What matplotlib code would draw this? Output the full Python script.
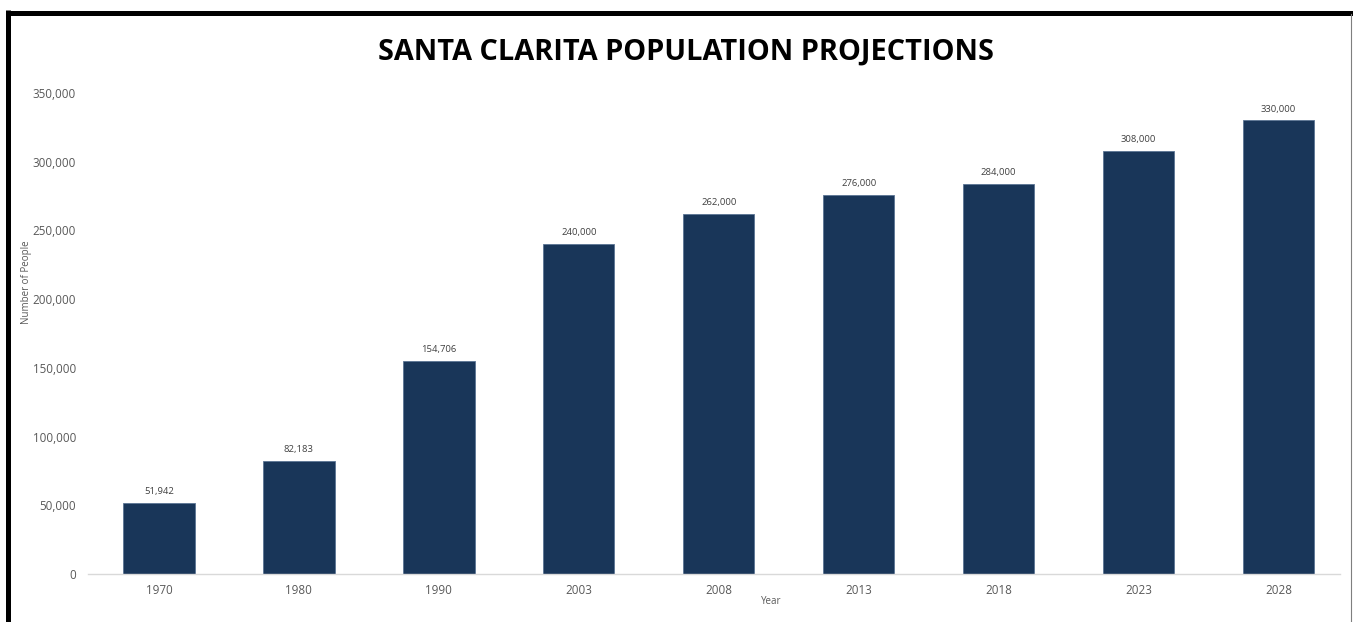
import matplotlib

matplotlib.use("Agg")
import matplotlib.pyplot as plt
from matplotlib import font_manager
from matplotlib.lines import Line2D
from matplotlib.ticker import FuncFormatter

years = ["1970", "1980", "1990", "2003", "2008", "2013", "2018", "2023", "2028"]
population = [51942, 82183, 154706, 240000, 262000, 276000, 284000, 308000, 330000]

BAR_COLOR = "#193659"
TEXT_GRAY = "#595959"

_names = {f.name for f in font_manager.fontManager.ttflist}
TITLE_FONT = "Liberation Sans Narrow" if "Liberation Sans Narrow" in _names else "Open Sans"
plt.rcParams["font.family"] = ["Open Sans", "DejaVu Sans"]

fig = plt.figure(figsize=(13.53, 6.22), dpi=100)
ax = fig.add_axes([0.065, 0.0772, 0.9255, 0.7733])

x = range(len(years))
bars = ax.bar(x, population, width=0.51, color=BAR_COLOR,
              edgecolor="#5a7494", linewidth=0.6)
for rect, val in zip(bars, population):
    ax.annotate(f"{val:,}", (rect.get_x() + rect.get_width() / 2, val),
                xytext=(0, 5), textcoords="offset points",
                ha="center", va="bottom", fontsize=6.8, color="#404040")

ax.set_xlim(-0.507, 8.44)
ax.set_ylim(0, 350000)
ax.set_xticks(list(x))
ax.set_xticklabels(years)
ax.set_yticks(range(0, 350001, 50000))
ax.yaxis.set_major_formatter(FuncFormatter(lambda v, _: f"{int(v):,}"))
ax.tick_params(axis="both", length=0, labelsize=8.4, labelcolor=TEXT_GRAY)
ax.tick_params(axis="y", pad=8.6)
ax.tick_params(axis="x", pad=7.5)

for side in ("top", "right", "left"):
    ax.spines[side].set_visible(False)
ax.spines["bottom"].set_color("#d9d9d9")
ax.spines["bottom"].set_linewidth(1.0)

title_size = 22 if TITLE_FONT != "Open Sans" else 20.8
fig.text(686 / 1353, 1 - 52 / 622, "SANTA CLARITA POPULATION PROJECTIONS",
         ha="center", va="center", fontsize=title_size, fontweight="bold",
         family=TITLE_FONT, color="black")
fig.text(27 / 1353, 1 - 282 / 622, "Number of People", rotation=90,
         ha="center", va="center", fontsize=7, color=TEXT_GRAY)
fig.text(771 / 1353, 1 - 601 / 622, "Year",
         ha="center", va="center", fontsize=7, color=TEXT_GRAY)

# frame lines around the picture: thick black top/left, thin grey right
fig.add_artist(Line2D([5.5 / 1353, 1], [1 - 12.5 / 622, 1 - 12.5 / 622],
                      transform=fig.transFigure, color="black", lw=3.6,
                      solid_capstyle="butt"))
fig.add_artist(Line2D([7.5 / 1353, 7.5 / 1353], [0, 1 - 10 / 622],
                      transform=fig.transFigure, color="black", lw=3.6,
                      solid_capstyle="butt"))
fig.add_artist(Line2D([1350.5 / 1353, 1350.5 / 1353], [0, 1 - 14 / 622],
                      transform=fig.transFigure, color="#7f7f7f", lw=0.8))

fig.savefig("out.png", dpi=100)
